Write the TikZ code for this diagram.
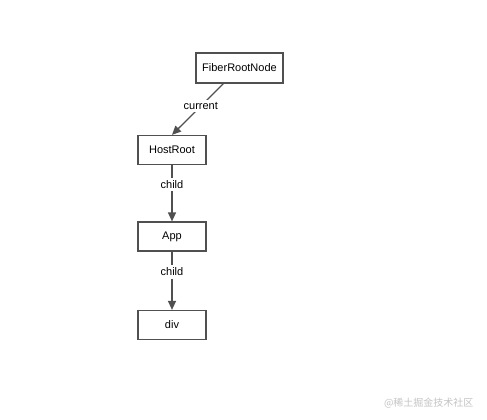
\documentclass[tikz,border=0pt]{standalone}
\usepackage{fontspec}
\setmainfont{Liberation Sans}
\newfontfamily\cjkfont{Noto Sans CJK SC}
\usepackage{tikz}
\usetikzlibrary{arrows.meta, positioning}
\definecolor{linecolor}{RGB}{80,80,80}
\definecolor{markcolor}{RGB}{195,195,195}

\begin{document}
\begin{tikzpicture}[
    x=1pt, y=-1pt,
    block/.style={rectangle, draw=linecolor, line width=1.2pt, minimum width=68pt, minimum height=29pt, align=center, font=\fontsize{11}{13}\selectfont},
    arrow/.style={-{Triangle[length=9pt, width=8pt]}, draw=linecolor, line width=1.3pt},
    lbl/.style={fill=white, inner sep=2.5pt, font=\fontsize{11}{13}\selectfont}
]
\useasboundingbox (0,0) rectangle (487,420);

\node[block, minimum width=87pt, minimum height=30pt] (fiber) at (239.5,68) {FiberRootNode};
\node[block] (host) at (172,150) {HostRoot};
\node[block] (app) at (172,236.5) {App};
\node[block] (div) at (172,325) {div};

\draw[arrow] ([xshift=28pt]fiber.south west) -- node[lbl, pos=0.44] {current} (host.north);
\draw[arrow] (host) -- node[lbl, pos=0.35] {child} (app);
\draw[arrow] (app) -- node[lbl, pos=0.35] {child} (div);

\node[text=markcolor, font=\cjkfont\fontsize{10}{12}\selectfont, anchor=east] (mark) at (477,403) {@稀土掘金技术社区};
\end{tikzpicture}
\end{document}
